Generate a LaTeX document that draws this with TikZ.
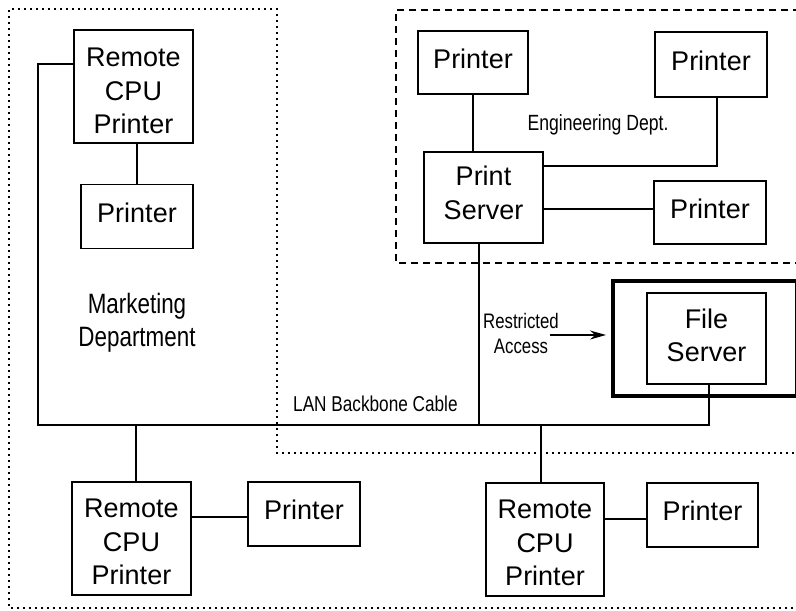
\documentclass[tikz,border=0pt]{standalone}
\usepackage{fontspec}
\setmainfont{Liberation Sans}
\newfontfamily\narrowsans{Liberation Sans}[FakeStretch=0.8]
\usetikzlibrary{arrows.meta}
\begin{document}
\begin{tikzpicture}[x=1pt,y=-1pt,
  box/.style={draw, line width=1.4pt, inner sep=0pt},
  prbox/.style={box, minimum width=112pt, minimum height=64pt},
  cpubox/.style={box, minimum width=119pt, minimum height=113pt},
  srvbox/.style={box, minimum width=119pt, minimum height=91pt},
  big/.style={font=\fontsize{27}{33.5}\selectfont, align=center, inner sep=0pt},
  small/.style={font=\narrowsans\fontsize{21.5}{25}\selectfont, align=center, inner sep=0pt},
  wire/.style={line width=1.4pt},
  dotbound/.style={line width=1.8pt, dash pattern=on 1.8pt off 4.2pt},
  dashbound/.style={line width=1.5pt, dash pattern=on 7pt off 5pt}]
\useasboundingbox (0,0) rectangle (796,611);
\clip (0,0) rectangle (796,611);

% department boundaries
\draw[dotbound] (800,453) -- (277,453) -- (277,9) -- (9,9) -- (9,608) -- (800,608);
\draw[dashbound] (800,10) -- (396,10) -- (396,263) -- (800,263);

% secured file server enclosure
\draw[line width=4pt] (800,281) -- (613,281) -- (613,396) -- (800,396);
\draw[line width=1pt] (795,281) -- (795,396);

% marketing department
\node[cpubox] (rcp1) at (133.5,86.5) {};
\node[big] (rcp1t) at ([yshift=-4.7pt]rcp1.center) {Remote\\CPU\\Printer};
\node[prbox] (pm) at (137,216.5) {};
\node[big] (pmt) at ([yshift=3.8pt]pm.center) {Printer};
\node[font=\narrowsans\fontsize{28}{33}\selectfont, align=center, inner sep=0pt] (mkt) at (137,322.5) {Marketing\\Department};

% engineering department
\node[prbox, minimum width=110pt, minimum height=63pt] (ep1) at (473,62.5) {};
\node[big] (ep1t) at ([yshift=3.8pt]ep1.center) {Printer};
\node[prbox, minimum height=65pt] (ep2) at (711,64.5) {};
\node[big] (ep2t) at ([yshift=3.8pt]ep2.center) {Printer};
\node[srvbox] (ps) at (483.5,197.5) {};
\node[big, font=\fontsize{27}{34}\selectfont] (pst) at ([yshift=4.2pt]ps.center) {Print\\Server};
\node[prbox, minimum height=63pt] (ep3) at (710,212.5) {};
\node[big] (ep3t) at ([yshift=3.8pt]ep3.center) {Printer};
\node[small, font=\narrowsans\fontsize{22}{25}\selectfont, anchor=base] (eng) at (598,130) {Engineering Dept.};

% file server
\node[srvbox] (fs) at (706.5,338.5) {};
\node[big, font=\fontsize{27}{33}\selectfont] (fst) at ([yshift=3.3pt]fs.center) {File\\Server};

% remote stations on the backbone
\node[cpubox] (rcp2) at (131.5,538.5) {};
\node[big] (rcp2t) at ([yshift=-3.8pt]rcp2.center) {Remote\\CPU\\Printer};
\node[prbox] (p2) at (304,514) {};
\node[big] (p2t) at ([yshift=3.8pt]p2.center) {Printer};
\node[cpubox, minimum width=118pt] (rcp3) at (545,539.5) {};
\node[big] (rcp3t) at ([yshift=-3.8pt]rcp3.center) {Remote\\CPU\\Printer};
\node[prbox, minimum width=111pt] (p3) at (702.5,515) {};
\node[big] (p3t) at ([yshift=3.8pt]p3.center) {Printer};

% labels
\node[small, anchor=base west] (lan) at (293,411.5) {LAN Backbone Cable};
\node[small, font=\narrowsans\fontsize{21}{25}\selectfont] (ra) at (521,333) {Restricted\\Access};

% backbone cable and taps
\coordinate (bbL) at (38,425);
\coordinate (bbR) at (709,425);
\coordinate (tapA) at (136,425);
\coordinate (tapB) at (479,425);
\coordinate (tapC) at (541,425);
\draw[wire] ([yshift=22.5pt]rcp1.west) -| (bbL) -- (bbR) -- (fs.south -| bbR);
\draw[wire] (tapA) -- (tapA |- rcp2.north);
\draw[wire] (ps.south -| tapB) -- (tapB);
\draw[wire] (tapC) -- (tapC |- rcp3.north);

% local printer links
\draw[wire] (rcp1.south -| pm.north) -- (pm.north);
\draw[wire] (ep1.south) -- (ep1.south |- ps.north);
\coordinate (eb) at (717,166);
\draw[wire] (ps.east |- eb) -- (eb) -- (eb |- ep2.south);
\draw[wire] ([yshift=3.5pt]ep3.west) -- ([yshift=3.5pt]ep3.west -| ps.east);
\draw[wire] ([yshift=-3pt]p2.west) -- ([yshift=-3pt]p2.west -| rcp2.east);
\draw[wire] ([yshift=-4pt]p3.west) -- ([yshift=-4pt]p3.west -| rcp3.east);

% access arrow
\coordinate (arrS) at (550,335);
\coordinate (arrE) at (606,335);
\draw[wire, -{Stealth[length=16pt, width=9pt]}] (arrS) -- (arrE);
\end{tikzpicture}
\end{document}
